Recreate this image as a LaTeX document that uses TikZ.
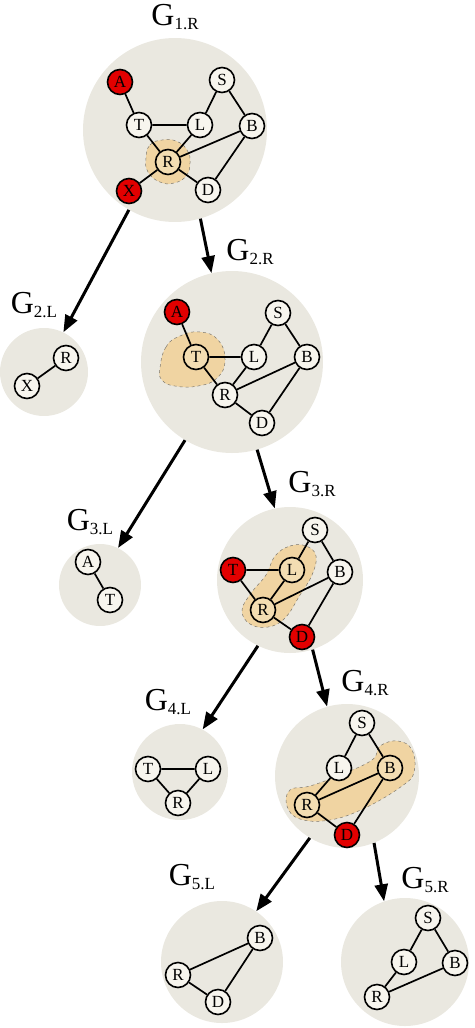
\documentclass[tikz,border=0pt]{standalone}
\usepackage{fontspec}
\setmainfont{Liberation Serif}
\usetikzlibrary{arrows.meta}
\definecolor{bgc}{RGB}{234,232,224}
\definecolor{vw}{RGB}{247,245,238}
\definecolor{vred}{RGB}{226,0,0}
\definecolor{vtan}{RGB}{243,221,178}
\definecolor{blobc}{RGB}{240,212,162}
\definecolor{blobd}{RGB}{125,120,110}
\newcommand{\glabtxt}[1]{{\fontsize{32}{32}\selectfont G}\raisebox{-4pt}{\fontsize{17}{17}\selectfont #1}}
\tikzset{
  bigc/.style={circle, fill=bgc, draw=none, inner sep=0pt, minimum size=#1},
  vtx/.style={circle, draw=black, line width=1.6pt, fill=vw, inner sep=0pt, minimum size=25pt, font=\fontsize{17}{17}\selectfont},
  redv/.style={vtx, fill=vred},
  hlv/.style={vtx, fill=vtan},
  lnk/.style={line width=1.7pt},
  arr/.style={line width=3pt, -{Triangle[length=17pt,width=13pt]}},
  blob/.style={fill=blobc, draw=blobd, dashed, line width=0.5pt},
  glab/.style={inner sep=0pt}
}
\begin{document}
\begin{tikzpicture}[x=1pt,y=-1pt]
\useasboundingbox (0,0) rectangle (474,1028);
% big circles
\node[bigc=184pt] (g1) at (175,130) {};
\node[bigc=88pt] (g2l) at (44,372) {};
\node[bigc=182pt] (g2r) at (232,362) {};
\node[bigc=82pt] (g3l) at (100,585) {};
\node[bigc=146pt] (g3r) at (290,580) {};
\node[bigc=96pt] (g4l) at (180,772) {};
\node[bigc=144pt] (g4r) at (347,776) {};
\node[bigc=122pt] (g5l) at (222,962) {};
\node[bigc=128pt] (g5r) at (405,962) {};
% labels
\node[glab] (l1) at (175,17) {\glabtxt{1.R}};
\node[glab] (l2l) at (34,305) {\glabtxt{2.L}};
\node[glab] (l2r) at (250,252) {\glabtxt{2.R}};
\node[glab] (l3l) at (90,522) {\glabtxt{3.L}};
\node[glab] (l3r) at (312,484) {\glabtxt{3.R}};
\node[glab] (l4l) at (168,702) {\glabtxt{4.L}};
\node[glab] (l4r) at (365,683) {\glabtxt{4.R}};
\node[glab] (l5l) at (192,877) {\glabtxt{5.L}};
\node[glab] (l5r) at (425,880) {\glabtxt{5.R}};
% blobs
\draw[blob] plot[smooth cycle, tension=0.8] coordinates {(146,158) (150,145) (162,140) (176,141) (187,150) (190,163) (186,176) (174,183) (160,182) (148,172)};
\draw[blob] plot[smooth cycle, tension=0.8] coordinates {(160,368) (166,347) (180,336) (200,332) (218,340) (225,360) (217,378) (198,386) (175,386) (162,380)};
\draw[blob] plot[smooth cycle, tension=0.7] coordinates {(275,556) (290,546) (306,546) (316,556) (312,575) (300,595) (285,618) (268,627) (250,624) (242,610) (252,592) (266,575)};
\draw[blob] plot[smooth cycle, tension=0.7] coordinates {(380,746) (398,741) (412,750) (414,772) (402,786) (365,808) (330,820) (300,819) (287,806) (290,790) (310,786) (340,775) (372,760)};
% G1.R
\node[redv] (a1) at (120,82) {A};
\node[vtx] (t1) at (139,125) {T};
\node[vtx] (lx1) at (200,125) {L};
\node[vtx] (s1) at (222,80) {S};
\node[vtx] (b1) at (252,126) {B};
\node[hlv] (r1) at (168,162) {R};
\node[redv] (x1) at (129,191) {X};
\node[vtx] (d1) at (208,190) {D};
\draw[lnk] (a1)--(t1) (t1)--(lx1) (t1)--(r1) (lx1)--(s1) (lx1)--(r1) (s1)--(b1) (b1)--(r1) (b1)--(d1) (r1)--(d1) (r1)--(x1);
% G2.L
\node[vtx] (r2l) at (66,358) {R};
\node[vtx] (x2l) at (27,386) {X};
\draw[lnk] (r2l)--(x2l);
% G2.R
\node[redv] (a2) at (177,312) {A};
\node[hlv] (t2) at (196,357) {T};
\node[vtx] (lx2) at (254,357) {L};
\node[vtx] (s2) at (278,313) {S};
\node[vtx] (b2) at (307,357) {B};
\node[vtx] (r2) at (225,395) {R};
\node[vtx] (d2) at (262,423) {D};
\draw[lnk] (a2)--(t2) (t2)--(lx2) (t2)--(r2) (lx2)--(s2) (lx2)--(r2) (s2)--(b2) (b2)--(r2) (b2)--(d2) (r2)--(d2);
% G3.L
\node[vtx] (a3l) at (88,562) {A};
\node[vtx] (t3l) at (110,600) {T};
\draw[lnk] (a3l)--(t3l);
% G3.R
\node[vtx] (s3) at (315,530) {S};
\node[redv] (t3) at (233,570) {T};
\node[hlv] (lx3) at (292,570) {L};
\node[vtx] (b3) at (340,572) {B};
\node[hlv] (r3) at (263,610) {R};
\node[redv] (d3) at (302,637) {D};
\draw[lnk] (t3)--(lx3) (t3)--(r3) (lx3)--(s3) (lx3)--(r3) (s3)--(b3) (b3)--(r3) (b3)--(d3) (r3)--(d3);
% G4.L
\node[vtx] (t4l) at (148,769) {T};
\node[vtx] (lx4l) at (208,769) {L};
\node[vtx] (r4l) at (178,803) {R};
\draw[lnk] (t4l)--(lx4l) (t4l)--(r4l) (lx4l)--(r4l);
% G4.R
\node[vtx] (s4) at (362,723) {S};
\node[vtx] (lx4) at (339,768) {L};
\node[hlv] (b4) at (390,768) {B};
\node[hlv] (r4) at (307,805) {R};
\node[redv] (d4) at (347,835) {D};
\draw[lnk] (s4)--(lx4) (s4)--(b4) (lx4)--(r4) (r4)--(b4) (b4)--(d4) (r4)--(d4);
% G5.L
\node[vtx] (b5l) at (260,938) {B};
\node[vtx] (r5l) at (178,975) {R};
\node[vtx] (d5l) at (218,1002) {D};
\draw[lnk] (b5l)--(r5l) (b5l)--(d5l) (r5l)--(d5l);
% G5.R
\node[vtx] (s5) at (428,918) {S};
\node[vtx] (lx5) at (404,962) {L};
\node[vtx] (b5) at (455,963) {B};
\node[vtx] (r5) at (377,997) {R};
\draw[lnk] (s5)--(lx5) (s5)--(b5) (lx5)--(r5) (r5)--(b5);
% arrows
\draw[arr] (g1.240) -- (g2l.64);
\draw[arr] (g1.286) -- (g2r.103);
\draw[arr] (g2r.239) -- (g3l.64);
\draw[arr] (g2r.286) -- (g3r.102);
\draw[arr] (g3r.244) -- (g4l.62);
\draw[arr] (g3r.288) -- (g4r.106);
\draw[arr] (g4r.239) -- (g5l.56);
\draw[arr] (g4r.292) -- (g5r.109);
\end{tikzpicture}
\end{document}
